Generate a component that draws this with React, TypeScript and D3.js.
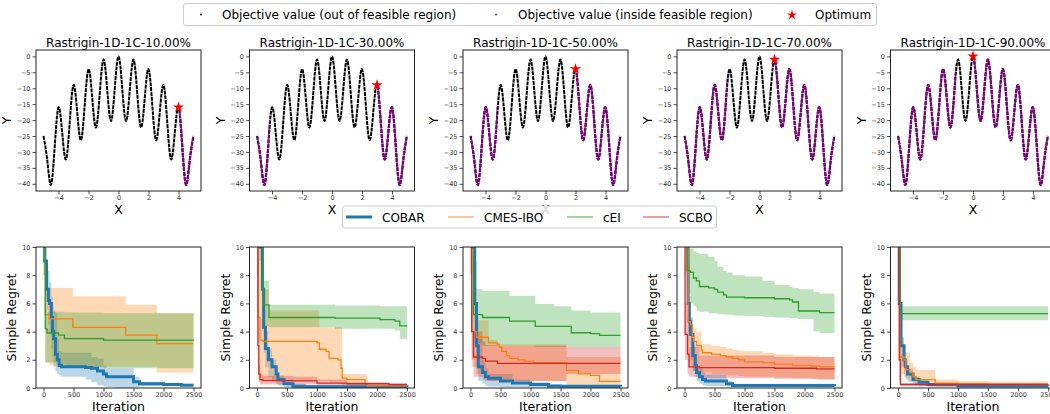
import { useEffect, useRef } from 'react';
import * as d3 from 'd3';

// ---- data ----
const settings = ['10.00%', '30.00%', '50.00%', '70.00%', '90.00%'];
const optimumX = [4, 3, 2, 1, 0];
const optimumY = [-16, -9, -4, -1, 0];
// feasible x-intervals per setting (purple part of the curve)
const feasible = [
  [[4.05, 5]],
  [[-5, -4.15], [3, 5]],
  [[-5, -3.2], [2, 5]],
  [[-5, -2.15], [1, 5]],
  [[-5, -1.15], [0, 5]],
];

// objective curve
const curveX = [-5, -4.75, -4.5, -4.25, -4, -3.75, -3.5, -3.25, -3, -2.75, -2.5, -2.25, -2, -1.75, -1.5, -1.25, -1, -0.75, -0.5, -0.25,
  0, 0.25, 0.5, 0.75, 1, 1.25, 1.5, 1.75, 2, 2.25, 2.5, 2.75, 3, 3.25, 3.5, 3.75, 4, 4.25, 4.5, 4.75, 5];
const curveY = [-25, -32.6, -40.3, -28.1, -16, -24.1, -32.3, -20.6, -9, -17.6, -26.3, -15.1, -4, -13.1, -22.3, -11.6, -1, -10.6, -20.3, -10.1,
  0, -10.1, -20.3, -10.6, -1, -11.6, -22.3, -13.1, -4, -15.1, -26.3, -17.6, -9, -20.6, -32.3, -24.1, -16, -28.1, -40.3, -32.6, -25];

const methods = ['COBAR', 'CMES-IBO', 'cEI', 'SCBO'];
const colors = ['#1f77b4', '#ff7f0e', '#2ca02c', '#d62728'];

// regret rows: [iteration, mean, lower, upper]
const cobar10 = [[0, 12, 10, 14], [20, 9, 8, 10], [50, 7, 5.5, 8.5], [80, 6.2, 4.5, 8.3], [100, 6, 3.8, 7.5], [130, 5, 2.8, 6.5], [150, 4, 2.2, 6], [170, 3.5, 1.5, 5.5], [200, 2.4, 1.2, 5.3], [230, 2, 1, 3.5], [260, 1.6, 0.9, 2.6], [300, 1.5, 0.8, 2.5], [700, 1.45, 0.6, 2.5], [800, 1.4, 0.4, 2.2], [900, 1.2, 0.2, 2.1], [1000, 1.0, 0.1, 1.6], [1050, 0.8, 0.05, 1.4], [1200, 0.8, 0, 1.4], [1500, 0.45, 0.05, 0.8], [1600, 0.3, 0.15, 0.45], [2000, 0.25, 0.15, 0.35], [2300, 0.2, 0.12, 0.3], [2500, 0.2, 0.12, 0.3]];
const cmes10 = [[0, 10, 8, 12], [30, 5.2, 1.8, 7.1], [100, 4.9, 1.6, 7.1], [490, 4.3, 1.5, 6.5], [1370, 3.75, 1.5, 5.9], [1890, 3.15, 1.1, 5.3], [2500, 3.15, 1.1, 5.3]];
const cei10 = [[0, 10, 8, 12], [30, 4.2, 1.8, 5.5], [60, 3.9, 1.8, 5.4], [250, 3.75, 1.7, 5.4], [350, 3.5, 1.5, 5.35], [1000, 3.4, 1.4, 5.3], [2500, 3.35, 1.4, 5.3]];
const scbo10: number[][] = [];

const cobar30 = [[0, 12, 10, 14], [40, 10, 9, 11], [90, 7, 4, 9], [110, 4.3, 2.5, 5.5], [140, 2.8, 1.5, 4], [190, 2.0, 0.8, 2.8], [250, 1.5, 0.5, 2], [320, 1.0, 0.3, 1.2], [350, 0.6, 0.2, 0.9], [450, 0.3, 0.05, 0.6], [600, 0.12, 0, 0.3], [800, 0.08, 0, 0.2], [2500, 0.05, 0, 0.12]];
const cmes30 = [[0, 10, 8, 12], [20, 5, 0.8, 10], [50, 3.4, 0.5, 10], [100, 3.3, 0.5, 7], [200, 3.3, 0.5, 5.5], [1000, 3.2, 0.5, 5.5], [1040, 2.75, 0.5, 4.3], [1150, 2.6, 0.5, 4.3], [1200, 2.1, 0.4, 4.3], [1350, 2.0, 0.4, 4.3], [1400, 1.4, 0.3, 4.3], [1420, 0.7, 0.2, 1.0], [1500, 0.6, 0.15, 1.0], [1800, 0.3, 0.1, 1.0], [1840, 0.15, 0.05, 0.25], [2500, 0.15, 0.05, 0.25]];
const cei30 = [[0, 12, 10, 14], [70, 10, 7.6, 10], [100, 5.9, 4.4, 7.6], [200, 5.0, 4.3, 5.9], [1300, 4.95, 4.2, 5.85], [2050, 4.85, 4.2, 5.8], [2300, 4.75, 4.1, 5.8], [2380, 4.4, 3.5, 5.8], [2500, 4.4, 3.5, 5.8]];
const scbo30 = [[0, 10, 8, 12], [15, 3, 1.5, 6], [30, 1.0, 0.4, 1.6], [50, 0.6, 0.25, 1.0], [100, 0.52, 0.25, 0.85], [600, 0.5, 0.25, 0.8], [1000, 0.35, 0.2, 0.6], [1500, 0.3, 0.2, 0.4], [2200, 0.25, 0.15, 0.32], [2500, 0.25, 0.15, 0.32]];

const cobar50 = [[0, 12, 10, 14], [40, 10, 8, 12], [70, 6, 3.5, 9], [100, 3, 1.5, 5], [130, 1.5, 0.5, 3.5], [200, 1.1, 0.3, 2], [250, 0.8, 0.15, 1.4], [300, 0.7, 0.1, 1.0], [500, 0.5, 0.05, 1.0], [700, 0.35, 0.05, 0.6], [1000, 0.25, 0.03, 0.4], [1300, 0.15, 0.02, 0.25], [1500, 0.12, 0, 0.2], [2500, 0.1, 0, 0.18]];
const cmes50 = [[0, 10, 8, 12], [20, 4, 1.5, 6], [100, 3.6, 1.0, 4.8], [300, 3.2, 0.5, 3.4], [450, 3.1, 0.5, 3.1], [480, 2.9, 0.5, 3.1], [520, 2.6, 0.5, 3.1], [600, 2.3, 0.5, 3.1], [650, 2.1, 0.5, 3.1], [800, 2.0, 0.5, 3.1], [900, 1.9, 0.5, 3.1], [1050, 1.8, 0.5, 3.1], [1600, 1.25, 0.1, 2.2], [1800, 1.0, 0.1, 2.2], [2000, 0.9, 0.1, 2.2], [2150, 0.47, 0.1, 2.2], [2500, 0.47, 0.1, 2.2]];
const cei50 = [[0, 12, 10, 14], [30, 10, 7, 10], [50, 5.2, 3.2, 7.0], [200, 5.0, 3.0, 6.9], [650, 4.75, 3.0, 6.55], [1080, 4.37, 2.9, 5.95], [1400, 4.37, 2.9, 5.8], [1680, 3.92, 2.9, 5.5], [2000, 3.85, 2.9, 5.35], [2150, 3.73, 2.9, 5.35], [2500, 3.73, 2.9, 5.35]];
const scbo50 = [[0, 10, 8, 12], [20, 4, 2, 7], [50, 2.2, 0.8, 4], [200, 2.1, 0.6, 3.3], [250, 1.9, 0.5, 3.05], [450, 1.75, 0.5, 3.0], [1600, 1.75, 1.0, 2.9], [2500, 1.75, 1.0, 2.9]];

const cobar70 = [[0, 12, 10, 14], [50, 10, 8, 12], [60, 6, 4, 9], [80, 4.7, 3, 6.5], [100, 3.8, 2, 5], [140, 2.3, 1.2, 3], [180, 1.6, 0.8, 2.2], [200, 1.1, 0.5, 1.6], [250, 0.8, 0.3, 1.4], [300, 0.6, 0.2, 1.1], [350, 0.5, 0.15, 0.95], [700, 0.3, 0.1, 0.5], [800, 0.17, 0.05, 0.3], [2500, 0.15, 0.05, 0.28]];
const cmes70 = [[0, 12, 10, 14], [40, 10, 6, 12], [60, 4.7, 1.8, 6.2], [100, 4.5, 1.5, 5.0], [130, 3.6, 1.3, 4.5], [150, 3.3, 1.2, 4.2], [200, 3.0, 1.1, 4.0], [280, 2.7, 1.1, 3.3], [300, 2.5, 1.1, 3.1], [450, 2.4, 1.0, 3.0], [600, 2.3, 1.0, 2.9], [700, 2.2, 0.9, 2.8], [800, 2.1, 0.9, 2.7], [900, 2.0, 0.85, 2.65], [1000, 1.85, 0.8, 2.6], [1300, 1.8, 0.8, 2.5], [1500, 1.7, 0.75, 2.4], [1800, 1.6, 0.7, 2.3], [2100, 1.55, 0.65, 2.25], [2250, 1.5, 0.6, 2.2], [2500, 1.5, 0.6, 2.2]];
const cei70 = [[0, 12, 10, 14], [40, 8.3, 6.7, 9.9], [100, 8.2, 6.0, 9.9], [150, 7.8, 5.8, 9.7], [200, 7.6, 5.5, 9.6], [250, 7.2, 5.4, 9.5], [400, 7.1, 5.3, 9.3], [500, 7.0, 5.3, 9.0], [550, 6.8, 5.25, 8.6], [650, 6.6, 5.2, 8.3], [700, 6.45, 5.2, 8.2], [800, 6.45, 5.15, 8.0], [1000, 6.4, 5.1, 7.9], [1300, 6.4, 5.05, 7.6], [1500, 6.33, 5.0, 7.3], [1750, 6.25, 4.95, 7.2], [1800, 6.1, 4.95, 7.1], [1900, 5.46, 4.9, 7.0], [2150, 5.46, 4.0, 6.8], [2250, 5.34, 3.9, 6.7], [2500, 5.34, 3.9, 6.7]];
const scbo70 = [[0, 10, 8, 12], [10, 3.8, 2, 6], [50, 2.4, 1.0, 5], [75, 1.5, 0.8, 2.9], [250, 1.45, 0.7, 2.3], [1500, 1.4, 0.65, 2.2], [2200, 1.35, 0.6, 2.2], [2500, 1.35, 0.6, 2.2]];

const cobar90 = [[0, 12, 10, 14], [20, 6, 2, 10], [50, 3.0, 1.5, 3.6], [100, 2.0, 1.0, 2.6], [120, 1.5, 0.7, 2.0], [160, 1.0, 0.4, 1.4], [250, 0.6, 0.2, 0.8], [350, 0.4, 0.1, 0.55], [500, 0.25, 0.05, 0.35], [1000, 0.15, 0.05, 0.25], [2500, 0.12, 0.05, 0.2]];
const cmes90 = [[0, 12, 10, 14], [30, 2.2, 1.0, 3.5], [100, 2.0, 0.8, 3.0], [130, 1.3, 0.6, 2.5], [200, 1.1, 0.5, 1.8], [250, 0.8, 0.4, 1.5], [300, 0.6, 0.3, 1.3], [620, 0.35, 0.1, 0.6], [1000, 0.3, 0.1, 0.5], [1500, 0.25, 0.1, 0.45], [2500, 0.25, 0.1, 0.45]];
const cei90 = [[0, 12, 10, 14], [40, 5.27, 4.8, 5.8], [2500, 5.27, 4.8, 5.8]];
const scbo90 = [[0, 10, 8, 12], [20, 2.0, 0.5, 4], [40, 0.25, 0.15, 0.35], [2500, 0.25, 0.15, 0.35]];

const regret = [
  [cobar10, cmes10, cei10, scbo10],
  [cobar30, cmes30, cei30, scbo30],
  [cobar50, cmes50, cei50, scbo50],
  [cobar70, cmes70, cei70, scbo70],
  [cobar90, cmes90, cei90, scbo90],
];

const topXTicks = [-4, -2, 0, 2, 4];
const topYTicks = [0, -5, -10, -15, -20, -25, -30, -35, -40];
const botXTicks = [0, 500, 1000, 1500, 2000, 2500];
const botYTicks = [0, 2, 4, 6, 8, 10];

const App = () => {
  const ref = useRef<SVGSVGElement>(null);

  useEffect(() => {
    const svg = d3.select(ref.current);
    svg.selectAll('*').remove();
    const font = 'DejaVu Sans';
    const colLeft = [36, 249.5, 463, 677, 890.5];
    const pw = 165;
    const tTop = 50, tBot = 191;
    const bTop = 247, bBot = 388;
    const fmt = d3.format('d');

    const styleAxis = (g) => {
      g.select('.domain').remove();
      g.selectAll('line').attr('stroke', '#222').attr('stroke-width', 0.8);
      g.selectAll('text').attr('font-family', font).attr('font-size', 6.5).attr('fill', '#333');
    };

    settings.forEach((s, i) => {
      const left = colLeft[i];

      // ---------- top panel ----------
      const x = d3.scaleLinear().domain([-5.5, 5.5]).range([left, left + pw]);
      const y = d3.scaleLinear().domain([-42.26, 2.01]).range([tBot, tTop]);
      const g = svg.append('g');

      const line = d3.line<number>()
        .x((_, k) => x(curveX[k]))
        .y(d => y(d))
        .curve(d3.curveNatural);

      g.append('path')
        .attr('d', line(curveY))
        .attr('fill', 'none')
        .attr('stroke', '#000')
        .attr('stroke-width', 2)
        .attr('stroke-dasharray', '4,0.8');

      const fid = `feas${i}`;
      const cp = svg.append('clipPath').attr('id', fid);
      feasible[i].forEach(([a, b]) => {
        cp.append('rect').attr('x', x(a)).attr('width', x(b) - x(a)).attr('y', tTop).attr('height', tBot - tTop);
      });
      g.append('path')
        .attr('d', line(curveY))
        .attr('fill', 'none')
        .attr('stroke', '#800080')
        .attr('stroke-width', 2.2)
        .attr('stroke-dasharray', '4,0.8')
        .attr('clip-path', `url(#${fid})`);

      g.append('path')
        .attr('d', d3.symbol(d3.symbolStar, 38)())
        .attr('transform', `translate(${x(optimumX[i])},${y(optimumY[i])})`)
        .attr('fill', '#ff0000');

      g.append('rect')
        .attr('x', left).attr('y', tTop).attr('width', pw).attr('height', tBot - tTop)
        .attr('fill', 'none').attr('stroke', '#222').attr('stroke-width', 1);

      svg.append('g').attr('transform', `translate(0,${tBot})`)
        .call(d3.axisBottom(x).tickValues(topXTicks).tickFormat(fmt).tickSize(3.5).tickPadding(1))
        .call(styleAxis);
      svg.append('g').attr('transform', `translate(${left},0)`)
        .call(d3.axisLeft(y).tickValues(topYTicks).tickFormat(fmt).tickSize(3.5).tickPadding(2))
        .call(styleAxis);

      svg.append('text').attr('x', left + pw / 2).attr('y', 47)
        .attr('text-anchor', 'middle').attr('font-family', font).attr('font-size', 12)
        .text(`Rastrigin-1D-1C-${s}`);
      svg.append('text').attr('x', left + pw / 2).attr('y', 213.5)
        .attr('text-anchor', 'middle').attr('font-family', font).attr('font-size', 12.5)
        .text('X');
      svg.append('text').attr('transform', `translate(${left - 25},${(tTop + tBot) / 2}) rotate(-90)`)
        .attr('text-anchor', 'middle').attr('font-family', font).attr('font-size', 12.5)
        .text('Y');

      // ---------- bottom panel ----------
      const bx = d3.scaleLinear().domain([-125, 2625]).range([left, left + pw]);
      const by = d3.scaleLinear().domain([0, 10]).range([bBot, bTop]);
      const cid = `plot${i}`;
      svg.append('clipPath').attr('id', cid).append('rect')
        .attr('x', left).attr('y', bTop).attr('width', pw).attr('height', bBot - bTop);
      const bg = svg.append('g').attr('clip-path', `url(#${cid})`);

      const area = d3.area<number[]>()
        .x(d => bx(d[0])).y0(d => by(d[2])).y1(d => by(d[3]))
        .curve(d3.curveStepAfter);
      const mean = d3.line<number[]>()
        .x(d => bx(d[0])).y(d => by(d[1]))
        .curve(d3.curveStepAfter);

      regret[i].forEach((rows, m) => {
        if (!rows.length) return;
        bg.append('path').attr('d', area(rows)).attr('fill', colors[m]).attr('fill-opacity', 0.3);
      });
      regret[i].forEach((rows, m) => {
        if (!rows.length) return;
        bg.append('path').attr('d', mean(rows)).attr('fill', 'none')
          .attr('stroke', colors[m]).attr('stroke-width', m === 0 ? 3 : 1.3);
      });

      svg.append('rect')
        .attr('x', left).attr('y', bTop).attr('width', pw).attr('height', bBot - bTop)
        .attr('fill', 'none').attr('stroke', '#222').attr('stroke-width', 1);

      svg.append('g').attr('transform', `translate(0,${bBot})`)
        .call(d3.axisBottom(bx).tickValues(botXTicks).tickFormat(fmt).tickSize(3.5).tickPadding(1))
        .call(styleAxis);
      svg.append('g').attr('transform', `translate(${left},0)`)
        .call(d3.axisLeft(by).tickValues(botYTicks).tickFormat(fmt).tickSize(3.5).tickPadding(2))
        .call(styleAxis);

      svg.append('text').attr('x', left + pw / 2).attr('y', 410.5)
        .attr('text-anchor', 'middle').attr('font-family', font).attr('font-size', 12.5)
        .text('Iteration');
      svg.append('text').attr('transform', `translate(${left - 20},${(bTop + bBot) / 2}) rotate(-90)`)
        .attr('text-anchor', 'middle').attr('font-family', font).attr('font-size', 12.5)
        .text('Simple Regret');
    });

    // ---------- top legend ----------
    const tl = svg.append('g');
    tl.append('rect').attr('x', 183.5).attr('y', 3.5).attr('width', 693).attr('height', 22)
      .attr('rx', 2.5).attr('fill', '#fff').attr('fill-opacity', 0.8)
      .attr('stroke', '#ccc').attr('stroke-width', 1);
    const topItems = ['Objective value (out of feasible region)', 'Objective value (inside feasible region)', 'Optimum'];
    const markX = [201, 496, 792];
    const textX = [222, 518, 815];
    topItems.forEach((t, k) => {
      if (k < 2) {
        tl.append('circle').attr('cx', markX[k]).attr('cy', 14.5).attr('r', 0.9)
          .attr('fill', k === 0 ? '#000' : '#800080');
      } else {
        tl.append('path').attr('d', d3.symbol(d3.symbolStar, 30)())
          .attr('transform', `translate(${markX[k]},15)`).attr('fill', '#ff0000');
      }
      tl.append('text').attr('x', textX[k]).attr('y', 18.8)
        .attr('font-family', font).attr('font-size', 12).text(t);
    });

    // ---------- method legend ----------
    const ml = svg.append('g');
    ml.append('rect').attr('x', 342.5).attr('y', 206).attr('width', 374).attr('height', 22)
      .attr('rx', 2.5).attr('fill', '#fff').attr('fill-opacity', 0.8)
      .attr('stroke', '#ccc').attr('stroke-width', 1);
    const lineX = [346, 448, 567, 643];
    methods.forEach((mName, k) => {
      ml.append('line').attr('x1', lineX[k]).attr('x2', lineX[k] + 26).attr('y1', 217).attr('y2', 217)
        .attr('stroke', colors[k]).attr('stroke-width', k === 0 ? 3 : 1.5)
        .attr('stroke-opacity', k === 0 ? 1 : 0.6);
      ml.append('text').attr('x', lineX[k] + 36).attr('y', 221.5)
        .attr('font-family', font).attr('font-size', 12).text(mName);
    });
  }, []);

  return (
    <svg ref={ref} width={1050} height={414}
      style={{ position: 'absolute', left: 0, top: 0, background: '#fff' }} />
  );
};

export default App;
